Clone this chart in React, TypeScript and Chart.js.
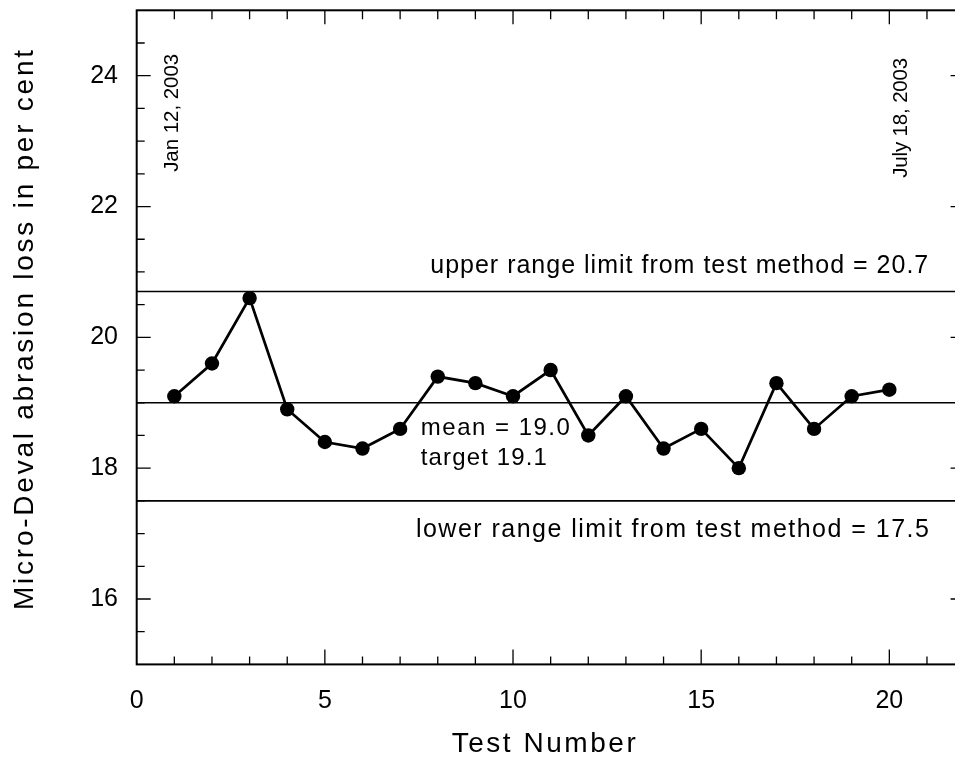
import React, { useEffect, useRef } from "react";
import { Chart, registerables } from "chart.js";

Chart.register(...registerables);

// ---- data ----
const testNumbers = [1, 2, 3, 4, 5, 6, 7, 8, 9, 10, 11, 12, 13, 14, 15, 16, 17, 18, 19, 20];
const abrasionLoss = [19.1, 19.6, 20.6, 18.9, 18.4, 18.3, 18.6, 19.4, 19.3, 19.1, 19.5, 18.5, 19.1, 18.3, 18.6, 18.0, 19.3, 18.6, 19.1, 19.2];
const upperLimit = 20.7;
const meanValue = 19.0;
const lowerLimit = 17.5;
const xRange = [0, 22];
const yRange = [15, 25];
const xTickValues = [0, 5, 10, 15, 20];
const yTickValues = [16, 18, 20, 22, 24];

const FONT = "'Liberation Sans', Arial, Helvetica, sans-serif";

function spacedText(
  ctx: CanvasRenderingContext2D,
  text: string,
  x: number,
  y: number,
  size: number,
  width: number,
  rotate = false
) {
  ctx.save();
  ctx.font = `${size}px ${FONT}`;
  (ctx as any).letterSpacing = "0px";
  const natural = ctx.measureText(text).width;
  const sp = (width - natural) / Math.max(1, text.length - 1);
  (ctx as any).letterSpacing = `${sp}px`;
  ctx.translate(x, y);
  if (rotate) ctx.rotate(-Math.PI / 2);
  ctx.textAlign = "left";
  ctx.textBaseline = "alphabetic";
  ctx.fillStyle = "#000";
  ctx.fillText(text, 0, 0);
  ctx.restore();
}

const framePlugin = {
  id: "framePlugin",
  afterDatasetsDraw(chart: any) {
    const { ctx, chartArea: a, scales } = chart;
    const xs = scales.x;
    const ys = scales.y;
    ctx.save();
    ctx.strokeStyle = "#000";
    ctx.lineWidth = 1.3;
    ctx.beginPath();
    // bottom & top ticks
    for (let v = xRange[0] + 1; v < xRange[1]; v += 1) {
      const px = xs.getPixelForValue(v);
      const major = v % 5 === 0;
      const lb = major ? 15 : 8;
      const lt = major ? 14 : 9;
      ctx.moveTo(px, a.bottom);
      ctx.lineTo(px, a.bottom - lb);
      ctx.moveTo(px, a.top);
      ctx.lineTo(px, a.top + lt);
    }
    // left ticks (and right major ticks)
    for (let v = yRange[0] + 0.5; v < yRange[1]; v += 0.5) {
      const py = ys.getPixelForValue(v);
      const major = Math.abs(v % 2) < 1e-9;
      const l = major ? 14 : 8;
      ctx.moveTo(a.left, py);
      ctx.lineTo(a.left + l, py);
      if (major) {
        ctx.moveTo(a.right, py);
        ctx.lineTo(a.right - 14, py);
      }
    }
    ctx.stroke();
    ctx.lineWidth = 2;
    ctx.strokeRect(a.left, a.top, a.right - a.left, a.bottom - a.top);
    ctx.restore();

    // annotations
    const yU = ys.getPixelForValue(upperLimit);
    const yM = ys.getPixelForValue(meanValue);
    const yL = ys.getPixelForValue(lowerLimit);
    spacedText(ctx, "upper range limit from test method = 20.7", xs.getPixelForValue(7.8), yU - 18.5, 25, 498);
    spacedText(ctx, "mean = 19.0", xs.getPixelForValue(7.55), yM + 32, 24, 149);
    spacedText(ctx, "target 19.1", xs.getPixelForValue(7.55), yM + 62, 24, 126);
    spacedText(ctx, "lower range limit from test method = 17.5", xs.getPixelForValue(7.42), yL + 36, 25, 513);
    spacedText(ctx, "Jan 12, 2003", xs.getPixelForValue(1.1), ys.getPixelForValue(22.53), 20.5, 118, true);
    spacedText(ctx, "July 18, 2003", xs.getPixelForValue(20.46), ys.getPixelForValue(22.44), 20.5, 120, true);
    // axis titles
    spacedText(ctx, "Test Number", 451.7, 751.7, 28, 184);
    spacedText(ctx, "Micro-Deval abrasion loss in per cent", 33.3, 610, 28, 560, true);
  },
};

function zeroPadding(s: any) {
  s.paddingTop = 0;
  s.paddingBottom = 0;
  s.paddingLeft = 0;
  s.paddingRight = 0;
}

export default function App() {
  const ref = useRef<HTMLCanvasElement | null>(null);
  useEffect(() => {
    if (!ref.current) return;
    Chart.defaults.font.family = FONT;
    const refLine = (v: number) => ({
      type: "line" as const,
      data: [
        { x: xRange[0], y: v },
        { x: xRange[1], y: v },
      ],
      borderColor: "#000",
      borderWidth: 1.6,
      pointRadius: 0,
      fill: false,
    });
    const chart = new Chart(ref.current, {
      type: "line",
      data: {
        datasets: [
          refLine(upperLimit),
          refLine(meanValue),
          refLine(lowerLimit),
          {
            type: "line",
            data: testNumbers.map((t, i) => ({ x: t, y: abrasionLoss[i] })),
            borderColor: "#000",
            borderWidth: 2.7,
            pointRadius: 7.2,
            pointBackgroundColor: "#000",
            pointBorderColor: "#000",
            pointBorderWidth: 0,
            tension: 0,
            fill: false,
          },
        ] as any,
      },
      options: {
        responsive: false,
        animation: false,
        devicePixelRatio: 1,
        layout: { autoPadding: false, padding: { top: 10.3, right: 5.4, left: 0, bottom: 0 } },
        plugins: {
          legend: { display: false },
          tooltip: { enabled: false },
        },
        scales: {
          x: {
            type: "linear",
            position: "bottom",
            min: xRange[0],
            max: xRange[1],
            grid: { display: false, drawTicks: false },
            border: { display: false },
            ticks: {
              color: "#000",
              font: { size: 25, family: FONT },
              padding: 21.6,
              maxRotation: 0,
            },
            afterBuildTicks: (s: any) => {
              s.ticks = xTickValues.map((v) => ({ value: v }));
            },
            afterFit: (s: any) => {
              s.height = 759 - 664.4;
              zeroPadding(s);
            },
          },
          y: {
            type: "linear",
            position: "left",
            min: yRange[0],
            max: yRange[1],
            grid: { display: false, drawTicks: false },
            border: { display: false },
            ticks: {
              color: "#000",
              font: { size: 25, family: FONT },
              padding: 18.7,
            },
            afterBuildTicks: (s: any) => {
              s.ticks = yTickValues.map((v) => ({ value: v }));
            },
            afterFit: (s: any) => {
              s.width = 136.7;
              zeroPadding(s);
            },
          },
        },
      },
      plugins: [framePlugin],
    });
    return () => chart.destroy();
  }, []);
  return (
    <div
      style={{
        position: "fixed",
        left: 0,
        top: 0,
        width: 955,
        height: 759,
        overflow: "hidden",
        background: "#fff",
      }}
    >
      <canvas ref={ref} width={970} height={759} style={{ display: "block", width: 970, height: 759 }} />
    </div>
  );
}
